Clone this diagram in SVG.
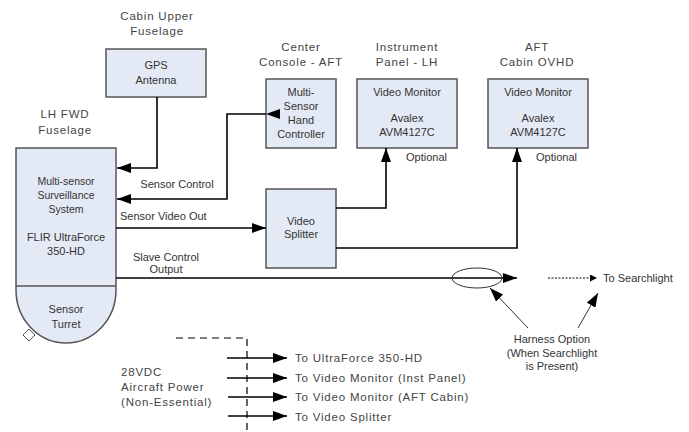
<svg xmlns="http://www.w3.org/2000/svg" width="689" height="432" viewBox="0 0 689 432">
<style>
text{font-family:"Liberation Sans",Arial,sans-serif;font-size:11px;fill:#333;text-anchor:middle}
.l{text-anchor:start}
.out{font-size:11.5px;letter-spacing:0.8px;fill:#444}
.bx{font-size:10.5px}
.box{fill:#e4eaf5;stroke:#555;stroke-width:1.5}
.ln{fill:none;stroke:#000;stroke-width:1.6}
.thin{fill:none;stroke:#333;stroke-width:1}
</style>
<defs>
<marker id="ah" viewBox="0 0 14 10" refX="14" refY="5" markerWidth="14" markerHeight="10" markerUnits="userSpaceOnUse" orient="auto"><path d="M0,0 L14,5 L0,10 Z" fill="#000"/></marker>
<marker id="ahs" viewBox="0 0 10 10" refX="10" refY="5" markerWidth="8" markerHeight="7" markerUnits="userSpaceOnUse" orient="auto"><path d="M0,0 L10,5 L0,10 Z" fill="#000"/></marker>
</defs>
<rect width="689" height="432" fill="#fff"/>

<g id="labels">
<text class="out" x="157" y="20">Cabin Upper</text>
<text class="out" x="157" y="35">Fuselage</text>
<text class="out" x="65" y="118">LH FWD</text>
<text class="out" x="65" y="134">Fuselage</text>
<text class="out" x="301" y="51">Center</text>
<text class="out" x="301" y="66">Console - AFT</text>
<text class="out" x="407" y="51">Instrument</text>
<text class="out" x="407" y="66">Panel - LH</text>
<text class="out" x="537" y="51">AFT</text>
<text class="out" x="537" y="66">Cabin OVHD</text>
</g>

<g id="gps">
<rect class="box" x="106" y="49" width="100" height="48"/>
<text x="156" y="69">GPS</text>
<text x="156" y="84">Antenna</text>
</g>

<g id="hand-controller">
<rect class="box" x="266" y="79" width="70" height="69"/>
<text x="301" y="96">Multi-</text>
<text x="301" y="110">Sensor</text>
<text x="301" y="124">Hand</text>
<text x="301" y="138">Controller</text>
</g>

<g id="monitor-lh">
<rect class="box" x="357" y="79" width="100" height="69"/>
<text x="407" y="96">Video Monitor</text>
<text x="407" y="122">Avalex</text>
<text x="407" y="136">AVM4127C</text>
</g>

<g id="monitor-aft">
<rect class="box" x="488" y="79" width="100" height="69"/>
<text x="538" y="96">Video Monitor</text>
<text x="538" y="122">Avalex</text>
<text x="538" y="136">AVM4127C</text>
</g>

<g id="splitter">
<rect class="box" x="266" y="189" width="70" height="79"/>
<text x="301" y="225">Video</text>
<text x="301" y="238">Splitter</text>
</g>

<g id="surveillance-system">
<path class="box" d="M16,148 H116 V290 A50,53 0 0 1 16,290 Z"/>
<line x1="16" y1="286" x2="116" y2="286" stroke="#555" stroke-width="1.5"/>
<path d="M29,329 L35,335 L29,341 L23,335 Z" fill="#fff" stroke="#555" stroke-width="1"/>
<text class="bx" x="66" y="185">Multi-sensor</text>
<text class="bx" x="66" y="199">Surveillance</text>
<text class="bx" x="66" y="213">System</text>
<text x="66" y="241">FLIR UltraForce</text>
<text x="66" y="255">350-HD</text>
<text x="66" y="313">Sensor</text>
<text x="66" y="328">Turret</text>
</g>

<g id="connectors">
<polyline class="ln" points="157,97 157,168 117,168" marker-end="url(#ah)"/>
<polyline class="ln" points="266,114 227,114 227,199 117,199" marker-start="url(#ah)" marker-end="url(#ah)"/>
<line class="ln" x1="116" y1="228" x2="266" y2="228" marker-end="url(#ah)"/>
<polyline class="ln" points="336,208 386,208 386,148" marker-end="url(#ah)"/>
<polyline class="ln" points="336,248 517,248 517,148" marker-end="url(#ah)"/>
<line class="ln" x1="116" y1="278" x2="517" y2="278" marker-end="url(#ah)"/>
<ellipse cx="477" cy="278" rx="25" ry="10" fill="none" stroke="#333" stroke-width="1"/>
<line x1="548" y1="278" x2="597" y2="278" stroke="#000" stroke-width="1" stroke-dasharray="2,1.5" marker-end="url(#ahs)"/>
<line class="thin" x1="528" y1="328" x2="490" y2="288" marker-end="url(#ah)"/>
<line class="thin" x1="578" y1="328" x2="598" y2="293" marker-end="url(#ah)"/>
<polyline points="176,338 247,338 247,432" fill="none" stroke="#000" stroke-width="1.2" stroke-dasharray="7,5"/>
<line class="ln" x1="227" y1="358" x2="287" y2="358" marker-end="url(#ah)"/>
<line class="ln" x1="227" y1="378" x2="287" y2="378" marker-end="url(#ah)"/>
<line class="ln" x1="228" y1="397" x2="287" y2="397" marker-end="url(#ah)"/>
<line class="ln" x1="228" y1="416" x2="287" y2="416" marker-end="url(#ah)"/>
</g>

<g id="connector-labels">
<text x="177" y="188">Sensor Control</text>
<text class="l" x="120" y="220">Sensor Video Out</text>
<text x="166" y="261">Slave Control</text>
<text x="166" y="273">Output</text>
<text class="l" x="406" y="161">Optional</text>
<text class="l" x="536" y="161">Optional</text>
<text class="l" x="603" y="282">To Searchlight</text>
<text x="552" y="343">Harness Option</text>
<text x="552" y="357">(When Searchlight</text>
<text x="552" y="370">is Present)</text>
<text class="l out" x="121" y="376">28VDC</text>
<text class="l out" x="121" y="391">Aircraft Power</text>
<text class="l out" x="121" y="406">(Non-Essential)</text>
<text class="l out" x="295" y="362">To UltraForce 350-HD</text>
<text class="l out" x="295" y="382">To Video Monitor (Inst Panel)</text>
<text class="l out" x="295" y="401">To Video Monitor (AFT Cabin)</text>
<text class="l out" x="295" y="421">To Video Splitter</text>
</g>
</svg>
